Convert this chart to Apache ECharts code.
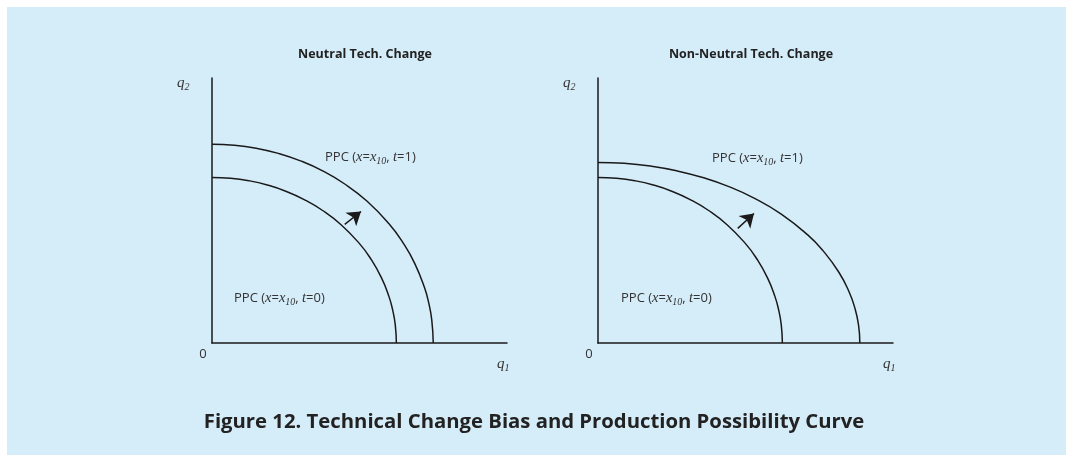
<!DOCTYPE html>
<html>
<head>
<meta charset="utf-8">
<script src="https://cdn.jsdelivr.net/npm/echarts@6/dist/echarts.min.js"></script>
<style>
html,body{margin:0;padding:0;background:#ffffff;}
#chart{width:1066px;height:455px;}
</style>
</head>
<body>
<div id="chart"></div>
<script>
// ---- data (q1, q2) ----
var panelTitles = ['Neutral Tech. Change', 'Non-Neutral Tech. Change'];
var caption = 'Figure 12. Technical Change Bias and Production Possibility Curve';

// PPC at t=0 (same in both panels)
var ppcT0 = [[0,5],[0.5,4.975],[1,4.899],[1.5,4.77],[2,4.583],[2.5,4.33],[3,4],[3.5,3.571],[4,3],[4.3,2.551],[4.6,1.96],[4.8,1.4],[4.9,0.995],[4.97,0.547],[5,0]];
// Neutral change: PPC at t=1
var ppcT1Neutral = [[0,6],[0.6,5.97],[1.2,5.879],[1.8,5.724],[2.4,5.499],[3,5.196],[3.6,4.8],[4.2,4.285],[4.8,3.6],[5.2,2.993],[5.5,2.398],[5.76,1.68],[5.88,1.194],[5.96,0.692],[6,0]];
// Non-neutral change: PPC at t=1
var ppcT1Bias = [[0,5.45],[0.71,5.423],[1.42,5.34],[2.13,5.199],[2.84,4.995],[3.55,4.72],[4.26,4.36],[4.97,3.892],[5.68,3.27],[6.106,2.781],[6.532,2.136],[6.816,1.526],[6.958,1.084],[7.065,0.545],[7.1,0]];
// shift arrows [from, to]
var arrowNeutral = [[3.6,3.58],[4.04,3.97]];
var arrowBias = [[3.79,3.46],[4.23,3.91]];
var axisMax = 8;

var ink = '#1a1a1a';
var lab = '#333333';
var serif = 'Liberation Serif';
var sans = 'Open Sans';

function richStyles(size, subSize){
  return {
    s: {fontFamily: sans, fontSize: size, fill: lab, lineHeight: 18, verticalAlign: 'middle'},
    i: {fontFamily: serif, fontStyle: 'italic', fontSize: size + 1.5, fill: lab, lineHeight: 18, verticalAlign: 'middle'},
    sub: {fontFamily: serif, fontStyle: 'italic', fontSize: subSize, fill: lab, lineHeight: 11, verticalAlign: 'bottom'}
  };
}
function ppcLabel(t){
  return '{s|PPC (}{i|x}{s|=}{i|x}{sub|10}{s|, }{i|t}{s|=' + t + ')}';
}

var chart = echarts.init(document.getElementById('chart'), null, {renderer: 'canvas'});

var grids = [
  {left: 212, top: 78, width: 295, height: 265},
  {left: 598, top: 78, width: 295, height: 265}
];

function xAx(i){
  return {gridIndex: i, type: 'value', min: 0, max: axisMax,
    axisLine: {show: true, lineStyle: {color: ink, width: 1.5}},
    axisTick: {show: false}, axisLabel: {show: false}, splitLine: {show: false}};
}
function yAx(i){
  return {gridIndex: i, type: 'value', min: 0, max: axisMax,
    axisLine: {show: true, onZero: false, lineStyle: {color: ink, width: 1.5}},
    axisTick: {show: false}, axisLabel: {show: false}, splitLine: {show: false}};
}
function curve(data, i){
  return {type: 'line', xAxisIndex: i, yAxisIndex: i, data: data, smooth: true,
    showSymbol: false, symbol: 'none', silent: true,
    lineStyle: {color: ink, width: 1.5}};
}
function arrow(seg, i){
  return {type: 'lines', coordinateSystem: 'cartesian2d', xAxisIndex: i, yAxisIndex: i,
    symbol: ['none', 'arrow'], symbolSize: [10, 13], silent: true,
    lineStyle: {color: ink, width: 1.5, opacity: 1},
    data: [{coords: seg}]};
}

var graphics = [
  {type: 'rect', shape: {x: 7, y: 7, width: 1066, height: 455}, style: {fill: '#d5ecf9'}, z: -10},
  {type: 'text', x: 365, y: 54, style: {text: panelTitles[0], font: 'bold 12.5px "Open Sans"', fill: '#222', align: 'center', verticalAlign: 'middle'}},
  {type: 'text', x: 751, y: 54, style: {text: panelTitles[1], font: 'bold 12.5px "Open Sans"', fill: '#222', align: 'center', verticalAlign: 'middle'}},
  {type: 'text', x: 534, y: 422, style: {text: caption, font: 'bold 20.3px "Open Sans"', fill: '#222', align: 'center', verticalAlign: 'middle'}},
  // axis labels
  {type: 'text', x: 177, y: 74, style: {text: '{i|q}{sub|2}', rich: richStyles(13.5, 10)}},
  {type: 'text', x: 563, y: 74, style: {text: '{i|q}{sub|2}', rich: richStyles(13.5, 10)}},
  {type: 'text', x: 497, y: 355, style: {text: '{i|q}{sub|1}', rich: richStyles(13.5, 10)}},
  {type: 'text', x: 883, y: 355, style: {text: '{i|q}{sub|1}', rich: richStyles(13.5, 10)}},
  {type: 'text', x: 203, y: 354, style: {text: '0', font: '13px "Open Sans"', fill: lab, align: 'center', verticalAlign: 'middle'}},
  {type: 'text', x: 589, y: 354, style: {text: '0', font: '13px "Open Sans"', fill: lab, align: 'center', verticalAlign: 'middle'}},
  // PPC labels
  {type: 'text', x: 325, y: 148, style: {text: ppcLabel(1), rich: richStyles(13, 10)}},
  {type: 'text', x: 234, y: 289, style: {text: ppcLabel(0), rich: richStyles(13, 10)}},
  {type: 'text', x: 712, y: 149, style: {text: ppcLabel(1), rich: richStyles(13, 10)}},
  {type: 'text', x: 621, y: 289, style: {text: ppcLabel(0), rich: richStyles(13, 10)}}
];

chart.setOption({
  backgroundColor: '#ffffff',
  animation: false,
  grid: grids,
  xAxis: [xAx(0), xAx(1)],
  yAxis: [yAx(0), yAx(1)],
  series: [
    curve(ppcT0, 0), curve(ppcT1Neutral, 0),
    curve(ppcT0, 1), curve(ppcT1Bias, 1),
    arrow(arrowNeutral, 0), arrow(arrowBias, 1)
  ],
  graphic: graphics
});
</script>
</body>
</html>
